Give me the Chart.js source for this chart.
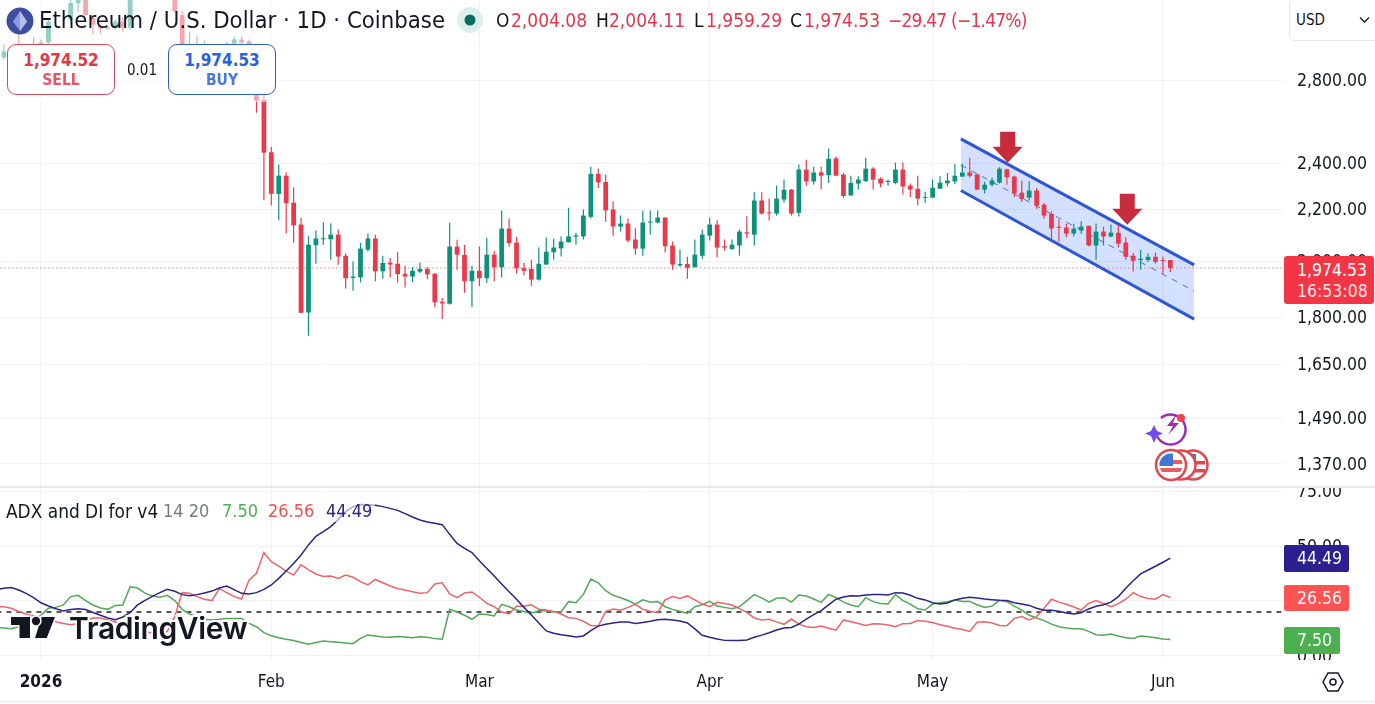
<!DOCTYPE html>
<html>
<head>
<meta charset="utf-8">
<title>ETHUSD</title>
<script src="https://cdn.jsdelivr.net/npm/chart.js@4/dist/chart.umd.min.js"></script>
<style>
  html, body { margin: 0; padding: 0; background: #fff; overflow: hidden; }
  body { width: 1375px; height: 704px; position: relative; font-family: "DejaVu Sans Condensed", "DejaVu Sans", sans-serif; color: #131722; }
  canvas { position: absolute; left: 0; display: block; }
  #priceChart { top: 0; }
  #adxChart { top: 487px; }
  .t { position: absolute; white-space: nowrap; line-height: 1; }
  .ohlc { top: 11px; font-size: 19px; }
  .red { color: #e0394c; }
  .box { position: absolute; width: 106px; height: 49px; background: #fff; border-radius: 9px; text-align: center; }
  .box div:first-child { font-size: 17px; font-weight: bold; margin-top: 5px; line-height: 20px; }
  .box div:last-child { font-size: 15.5px; font-weight: bold; line-height: 20px; opacity: .85; }
  .tag { position: absolute; left: 1284px; color: #fff; font-size: 17.5px; border-radius: 2px; }
  .tag span { position: absolute; left: 13px; top: 3px; }
</style>
</head>
<body>
<canvas id="priceChart" width="1375" height="486"></canvas>
<canvas id="adxChart" width="1375" height="214"></canvas>

<div style="position:absolute;left:0;top:0;width:280px;height:102px;background:rgba(255,255,255,.55)"></div>
<div style="position:absolute;left:0;top:486px;width:1375px;height:2px;background:#e6e8ee"></div>
<div style="position:absolute;left:0;top:701px;width:1375px;height:1px;background:#e6e8ee"></div>
<div style="position:absolute;left:1285px;top:660px;width:90px;height:10px;background:#fff"></div>

<!-- header -->
<svg style="position:absolute;left:6px;top:7px" width="28" height="28" viewBox="0 0 28 28">
  <circle cx="14" cy="14" r="13.5" fill="#3f4da0"/>
  <path d="M14 4 L21 14.5 L14 24 L7 14.5 Z" fill="#8d9be0"/>
  <path d="M14 4 L14 24 L21 14.5 Z" fill="#b4bff0"/>
</svg>
<div class="t" style="left:39px;top:9px;font-size:23.7px">Ethereum / U.S. Dollar · 1D · Coinbase</div>
<svg style="position:absolute;left:457px;top:7px" width="26" height="26"><circle cx="13" cy="13" r="13" fill="#dcefec"/><circle cx="13" cy="13" r="5.5" fill="#0b6b5d"/></svg>
<div class="t ohlc" style="left:496px">O</div>
<div class="t ohlc red" style="left:511px">2,004.08</div>
<div class="t ohlc" style="left:596px">H</div>
<div class="t ohlc red" style="left:609px">2,004.11</div>
<div class="t ohlc" style="left:694px">L</div>
<div class="t ohlc red" style="left:706px">1,959.29</div>
<div class="t ohlc" style="left:790px">C</div>
<div class="t ohlc red" style="left:804px">1,974.53</div>
<div class="t ohlc red" style="left:888px;letter-spacing:-.8px">−29.47 (−1.47%)</div>

<div class="box" style="left:7px;top:44px;border:1px solid #cf4a5c"><div class="red">1,974.52</div><div class="red">SELL</div></div>
<div class="t" style="left:127px;top:63px;font-size:15px">0.01</div>
<div class="box" style="left:168px;top:44px;border:1px solid #2f5fb5;color:#2b62d9"><div>1,974.53</div><div>BUY</div></div>

<div style="position:absolute;left:1289px;top:-1px;width:90px;height:40px;background:#fff;border:1px solid #e6e8ee;border-radius:6px"></div>
<div class="t" style="left:1296px;top:13px;font-size:15px">USD</div>
<svg style="position:absolute;left:1359px;top:16px" width="11" height="8"><path d="M1 1.5 L5.5 6 L10 1.5" fill="none" stroke="#131722" stroke-width="1.3"/></svg>

<!-- last price tag -->
<div class="tag" style="top:256px;width:90px;height:48px;background:#f23645;border-radius:3px">
  <span style="top:4px">1,974.53</span><span style="top:25px;color:#ffe3e5">16:53:08</span>
</div>

<!-- event icons -->
<svg style="position:absolute;left:1143px;top:408px" width="70" height="77" viewBox="0 0 70 77">
  <defs><clipPath id="coin"><circle cx="28" cy="57" r="11.5"/></clipPath></defs>
  <g transform="translate(3,-2)">
    <path d="M15 12 A15 15 0 1 1 11 30" fill="none" stroke="#9c2fb0" stroke-width="2.5"/>
    <path d="M30 9 L21 20 L27 20 L22 29 L33 17 L27 17 Z" fill="#9c2fb0"/>
  </g>
  <circle cx="38" cy="10" r="4" fill="#f0444f"/>
  <path d="M11 17 L14 23 L20 25.5 L14 28 L11 35 L8 28 L2 25.5 L8 23 Z" fill="#6f4cf0"/>
  <circle cx="50" cy="57" r="14.5" fill="#fff" stroke="#e0484f" stroke-width="2.5"/>
  <rect x="38" y="53" width="24" height="3.5" fill="#e0484f"/><rect x="38" y="61" width="24" height="3.5" fill="#e0484f"/>
  <rect x="42" y="46" width="11" height="7" fill="#3f77d6"/>
  <circle cx="38" cy="57" r="14.5" fill="#fff" stroke="#e0484f" stroke-width="2.5"/>
  <circle cx="28" cy="57" r="15" fill="#fff" stroke="#e0484f" stroke-width="2.5"/>
  <g clip-path="url(#coin)">
    <rect x="16" y="45" width="24" height="24" fill="#fff"/>
    <rect x="16" y="52" width="24" height="4" fill="#ea5a5f"/>
    <rect x="16" y="60" width="24" height="4" fill="#ea5a5f"/>
    <rect x="16" y="45" width="14" height="13" fill="#3f77d6"/>
  </g>
</svg>

<!-- indicator legend -->
<div style="position:absolute;left:325px;top:500px;width:50px;height:22px;background:rgba(255,255,255,.6)"></div>
<div class="t" style="left:6px;top:502px;font-size:18.9px">ADX and DI for v4</div>
<div class="t" style="left:163px;top:502px;font-size:18px;color:#787b86">14 20</div>
<div class="t" style="left:222px;top:502px;font-size:18px;color:#4caf50">7.50</div>
<div class="t" style="left:268px;top:502px;font-size:18px;color:#ef5350">26.56</div>
<div class="t" style="left:326px;top:502px;font-size:18px;color:#2a2388">44.49</div>

<div class="tag" style="top:545px;width:65px;height:27px;background:#2c1f8e"><span>44.49</span></div>
<div class="tag" style="top:585px;width:65px;height:26px;background:#ff5252"><span>26.56</span></div>
<div class="tag" style="top:627px;width:56px;height:27px;background:#4caf50"><span>7.50</span></div>

<!-- wordmark -->
<svg style="position:absolute;left:0;top:605px" width="70" height="45">
  <path d="M11 12 H30 V33 H19.5 V20 H11 Z M41.7 12 H55 L46.7 33 H35 Z" fill="#131722" stroke="#fff" stroke-width="3" paint-order="stroke"/>
  <circle cx="36" cy="16" r="4.2" fill="#131722" stroke="#fff" stroke-width="3" paint-order="stroke"/>
</svg>
<div class="t" style="left:69px;top:613px;font-family:Inter,sans-serif;font-weight:600;font-size:30px;color:#131722;-webkit-text-stroke:4px #fff;paint-order:stroke fill;letter-spacing:-.4px">TradingView</div>

<svg style="position:absolute;left:1322px;top:671px" width="22" height="22"><path d="M6 2 H16 L21 11 L16 20 H6 L1 11 Z" fill="none" stroke="#131722" stroke-width="1.5"/><circle cx="11" cy="11" r="3" fill="none" stroke="#131722" stroke-width="1.5"/></svg>

<script>
const tickFont = '"DejaVu Sans Condensed", "DejaVu Sans", sans-serif';

// day numbers count from 1 Jan 2026
const firstDay = -6;
const xMin = -5.518;
const xMax = 167.16;

const monthDays = [0, 31, 59, 90, 120, 151];
const monthLabels = ['2026', 'Feb', 'Mar', 'Apr', 'May', 'Jun'];
const priceTicks = [2800, 2400, 2200, 2000, 1800, 1650, 1490, 1370];
const adxTicks = [75, 50, 25, 0];

const opens = [
  2930,2923,2912,2989,2934,2967,2989,3006,3270,3320,
  3137,3236,3290,3148,3097,3091,3091,3125,3091,3290,
  3350,3300,3340,3290,3278,3165,2901,2967,2934,2950,
  2965,2950,3000,3023,3012,2847,2702,2450,2267,2345,
  2230,2141,1817,2060,2083,2083,2101,2020,1938,1940,
  2043,2086,1962,1994,1990,1953,1943,1961,1971,1953,
  1854,1847,2055,2023,1926,1964,1937,2024,1977,2125,
  2070,1974,1971,1932,1987,2033,2048,2071,2093,2094,
  2172,2353,2318,2202,2133,2145,2082,2047,2149,2149,
  2169,2059,1984,1989,1978,2020,2097,2141,2056,2045,
  2059,2110,2101,2239,2189,2185,2243,2285,2188,2372,
  2320,2360,2347,2422,2350,2260,2311,2322,2376,2332,
  2318,2314,2372,2302,2289,2250,2251,2289,2312,2320,
  2341,2359,2351,2285,2306,2315,2373,2341,2272,2251,
  2281,2222,2184,2132,2129,2105,2117,2136,2059,2113,
  2094,2108,2070,2020,2004,2004,2016,2001,2004.08
];
const highs = [
  2960,2995,2967,3062,3000,3034,3023,3137,3350,3370,
  3272,3303,3315,3165,3108,3102,3137,3148,3315,3380,
  3390,3370,3365,3320,3315,3188,3068,3045,3017,2985,
  2980,3010,3040,3040,3023,2869,2728,2474,2394,2360,
  2295,2168,2095,2117,2150,2145,2121,2028,1998,2069,
  2105,2101,2020,2011,2035,1983,1978,1995,1977,1956,
  1867,2148,2081,2061,1983,2055,2089,2039,2198,2166,
  2092,1993,2005,2051,2090,2086,2095,2209,2108,2202,
  2384,2377,2350,2236,2177,2165,2126,2198,2198,2198,
  2169,2074,2043,2016,2082,2121,2168,2158,2082,2082,
  2121,2174,2274,2274,2247,2302,2328,2288,2394,2416,
  2385,2386,2466,2431,2357,2345,2343,2425,2382,2338,
  2328,2403,2403,2311,2345,2276,2328,2343,2357,2398,
  2398,2425,2351,2319,2337,2382,2376,2345,2324,2321,
  2292,2229,2195,2161,2144,2144,2154,2136,2145,2132,
  2141,2141,2091,2030,2043,2028,2032,2016,2004.11
];
const lows = [
  2900,2912,2901,2912,2923,2956,2967,2989,3262,3260,
  3125,3182,3160,3051,3056,3079,3079,3068,3079,3275,
  3280,3285,3275,3262,3182,2890,2869,2912,2923,2935,
  2930,2940,2967,2989,2836,2637,2240,2218,2158,2105,
  2069,1815,1740,1990,2062,2005,1986,1900,1892,1922,
  2036,1926,1935,1940,1922,1904,1922,1956,1933,1835,
  1795,1844,1968,1885,1835,1908,1920,1925,1940,2054,
  1954,1948,1910,1929,1987,2005,2017,2071,2062,2082,
  2165,2292,2152,2097,2113,2070,2024,2020,2101,2145,
  2032,1968,1979,1935,1975,2009,2078,2013,2039,2043,
  2020,2086,2059,2181,2157,2177,2230,2177,2173,2302,
  2307,2285,2314,2343,2250,2260,2285,2318,2285,2295,
  2302,2308,2264,2254,2218,2230,2251,2289,2298,2308,
  2341,2337,2282,2268,2298,2311,2306,2254,2233,2239,
  2205,2164,2082,2073,2091,2095,2104,2056,2005,2059,
  2091,2051,2005,1961,1968,1997,1990,1953,1959.29
];
const closes = [
  2923,2956,2945,2934,2967,2989,3006,3125,3320,3270,
  3236,3272,3165,3108,3085,3085,3125,3091,3285,3350,
  3300,3340,3290,3272,3188,2912,2967,2940,2956,2965,
  2950,3000,3023,3006,2847,2697,2448,2267,2345,2228,
  2138,1816,2062,2086,2087,2101,2017,1937,1943,2047,
  2086,1962,1993,1987,1952,1943,1964,1971,1951,1852,
  1848,2055,2024,1926,1964,1937,2024,1977,2125,2068,
  1973,1964,1932,1990,2035,2051,2074,2094,2098,2177,
  2353,2316,2198,2133,2145,2078,2047,2149,2153,2169,
  2056,1987,1989,1975,2024,2101,2141,2051,2051,2062,
  2113,2105,2239,2185,2186,2247,2284,2185,2372,2320,
  2359,2345,2420,2345,2258,2314,2328,2376,2328,2311,
  2322,2372,2298,2285,2247,2254,2293,2315,2324,2345,
  2359,2345,2285,2306,2324,2376,2338,2268,2245,2281,
  2218,2177,2125,2128,2105,2125,2133,2059,2113,2094,
  2109,2066,2016,2001,2009,2016,1997,2000,1974.53
];

const adx = [
  30.2,30.8,31.1,30.0,28.5,26.5,24.2,22.7,21.5,20.5,
  21.1,21.5,21.1,19.8,18.5,17.3,16.5,17.7,19.8,23.2,
  25.3,27.1,28.8,30.3,29.4,27.9,27.4,27.9,28.6,29.5,
  30.9,31.8,30.2,28.5,28.2,28.8,30.3,32.3,35.3,38.6,
  42.0,45.9,50.5,54.4,56.5,58.8,62.1,65.6,67.9,68.9,
  68.8,68.5,67.9,67.1,66.2,64.7,63.2,61.8,60.9,60.3,
  59.7,55.3,51.2,48.9,47.0,43.3,39.8,36.4,32.7,29.2,
  25.8,22.1,18.6,15.0,11.4,10.3,9.7,9.2,8.6,9.1,
  11.5,13.6,14.4,15.0,15.5,15.5,14.8,15.2,15.8,16.5,
  16.7,16.4,15.9,15.0,12.3,9.4,8.5,7.7,7.1,7.0,
  7.1,7.3,8.5,9.5,10.6,11.8,12.7,13.0,14.5,16.8,
  18.8,20.6,23.2,25.8,26.8,27.4,27.3,27.7,28.0,28.0,
  27.7,28.8,28.6,27.6,26.2,25.5,24.2,23.6,24.1,25.5,
  26.2,26.7,26.4,25.9,25.6,25.3,25.2,24.2,23.6,23.0,
  21.7,20.8,20.8,20.3,19.5,19.1,19.7,21.4,22.6,23.3,
  24.5,27.0,30.8,34.2,37.3,39.1,40.8,42.6,44.49
];
const minusDi = [
  22.4,22.4,21.7,20.2,19.1,18.2,17.4,16.4,15.6,14.8,
  14.2,14.8,16.1,17.3,17.3,16.4,15.5,14.8,13.3,11.8,
  11.1,10.3,10.3,11.1,17.9,28.8,28.5,27.0,25.8,25.2,
  30.6,28.8,27.0,25.9,34.5,37.6,47.0,42.9,40.9,38.6,
  36.8,41.5,39.1,37.3,36.1,36.4,35.3,36.8,35.8,33.8,
  32.3,34.8,33.3,31.8,30.6,30.0,29.2,28.5,28.8,32.7,
  33.3,28.2,26.5,28.6,29.1,26.7,23.9,22.4,20.0,19.1,
  22.6,22.6,23.3,21.2,20.9,20.2,19.1,17.4,17.1,15.8,
  13.9,13.6,20.3,21.4,20.8,22.1,23.5,21.2,20.3,19.7,
  25.5,27.0,26.1,27.3,25.5,23.6,22.4,24.4,23.9,23.2,
  21.5,19.8,17.3,16.4,16.7,15.5,14.4,16.8,14.5,13.3,
  13.0,13.6,12.6,11.7,16.4,15.6,14.8,13.9,14.7,14.5,
  14.1,13.3,14.7,14.8,16.1,15.8,15.2,14.2,13.5,12.6,
  12.0,11.2,15.3,15.6,15.0,13.9,13.8,17.1,17.9,16.4,
  17.9,21.7,25.8,24.5,23.5,22.3,20.9,23.9,25.2,23.9,
  22.4,23.8,25.8,28.8,27.0,26.1,25.8,27.9,26.56
];
const plusDi = [
  13.0,12.7,12.4,13.3,14.1,16.4,18.6,21.7,22.1,23.2,
  27.0,27.6,25.2,23.2,21.8,21.2,23.0,23.2,31.5,30.9,
  28.6,27.3,26.7,27.6,25.2,21.2,19.1,17.9,16.7,16.4,
  16.7,17.1,17.1,17.1,14.8,13.3,10.6,9.2,8.3,7.6,
  7.0,6.1,5.3,6.1,6.8,6.5,6.2,5.9,5.6,8.0,
  9.5,9.1,8.6,8.5,8.9,8.6,8.3,8.8,8.5,7.9,
  7.6,21.2,20.0,18.5,16.7,19.1,18.9,18.2,23.5,22.4,
  20.9,20.2,19.4,20.6,20.6,20.0,20.0,24.7,24.2,28.0,
  35.0,33.3,29.7,27.6,26.5,25.2,23.6,25.5,24.4,24.8,
  22.4,21.2,20.3,19.4,22.4,23.3,24.8,22.7,22.1,21.5,
  22.4,25.2,27.9,26.4,24.5,26.2,26.5,24.5,27.7,27.3,
  25.9,24.4,28.0,26.5,24.5,23.2,22.4,26.5,24.7,23.9,
  23.6,27.9,25.2,23.6,21.5,20.9,23.6,24.2,24.7,25.5,
  24.8,24.8,23.3,22.1,22.7,25.3,24.7,22.7,20.9,18.5,
  17.3,16.1,14.5,13.3,12.7,12.4,12.4,11.2,9.7,9.4,
  10.0,9.1,8.3,8.0,9.1,8.8,8.3,7.7,7.50
];
const adxThreshold = 20;

// falling channel drawn over May
const channelDays = [123.8, 155.2];
const channelUpper = [2512, 1986];
const channelLower = [2281, 1795];
const channelMiddle = [2392, 1891];

// tips of the two down arrows
const arrowDays = [130.1, 146.2];
const arrowPrices = [2402, 2140];

const lastPrice = closes[closes.length - 1];
const GREEN = '#0c927b';
const RED = '#e93a4b';
const GRID = '#f1f2f5';

const candleColors = closes.map((c, i) => (c >= opens[i] ? GREEN : RED));
const dayOf = (i) => firstDay + i;

function toLine(values) {
  return values.map((v, i) => ({ x: dayOf(i), y: v }));
}

function money(v) {
  return Number(v).toLocaleString('en-US', { minimumFractionDigits: 2, maximumFractionDigits: 2 });
}

function flatLine(value, color, dash, width) {
  return {
    type: 'line',
    data: [{ x: firstDay, y: value }, { x: xMax + 5, y: value }],
    borderColor: color,
    borderWidth: width,
    borderDash: dash,
    pointRadius: 0,
    order: 3,
  };
}

// sits under the candles so the bodies keep their full colour
function channelLine(values, extra) {
  return Object.assign({
    type: 'line',
    data: channelDays.map((d, i) => ({ x: d, y: values[i] })),
    borderColor: '#2f55d4',
    borderWidth: 3,
    pointRadius: 0,
    order: 4,
  }, extra);
}

const arrowPlugin = {
  id: 'downArrows',
  afterDatasetsDraw(chart) {
    const { ctx, scales } = chart;
    ctx.save();
    ctx.fillStyle = '#c62c3b';
    arrowDays.forEach((d, i) => {
      const x = scales.x.getPixelForValue(d);
      const y = scales.y.getPixelForValue(arrowPrices[i]);
      ctx.beginPath();
      ctx.moveTo(x, y);
      ctx.lineTo(x - 15, y - 16);
      ctx.lineTo(x - 7.5, y - 16);
      ctx.lineTo(x - 7.5, y - 31);
      ctx.lineTo(x + 7.5, y - 31);
      ctx.lineTo(x + 7.5, y - 16);
      ctx.lineTo(x + 15, y - 16);
      ctx.closePath();
      ctx.fill();
    });
    ctx.restore();
  },
};

function xScale(showLabels) {
  return {
    type: 'linear',
    min: xMin,
    max: xMax,
    offset: false,
    grid: { color: GRID, drawTicks: false, offset: false },
    border: { display: false },
    afterBuildTicks(scale) {
      scale.ticks = monthDays.map((d) => ({ value: d }));
    },
    afterFit(scale) {
      scale.height = showLabels ? 41 : 0;
      scale.paddingLeft = 0;
      scale.paddingRight = 0;
    },
    ticks: {
      display: showLabels,
      autoSkip: false,
      maxRotation: 0,
      padding: 12,
      color: '#131722',
      font: (ctx) => ({ family: tickFont, size: 17, weight: ctx.index === 0 ? 'bold' : 'normal' }),
      callback: (v, i) => monthLabels[i],
    },
  };
}

function yScale(tickValues, extra) {
  return Object.assign({
    position: 'right',
    grid: { color: GRID, drawTicks: false },
    border: { display: false },
    afterBuildTicks(scale) {
      scale.ticks = tickValues.map((v) => ({ value: v }));
    },
    afterFit(scale) {
      scale.width = 92;
      // no room kept for half a label above and below the plot
      scale.paddingTop = 0;
      scale.paddingBottom = 0;
    },
    ticks: {
      autoSkip: false,
      padding: 14,
      labelOffset: 1,
      color: '#131722',
      font: { family: tickFont, size: 17.5 },
      callback: (v) => money(v),
    },
  }, extra);
}

new Chart(document.getElementById('priceChart'), {
  type: 'line',
  data: {
    datasets: [
      channelLine(channelUpper, { fill: '+1', backgroundColor: 'rgba(41,98,255,0.2)' }),
      channelLine(channelLower),
      channelLine(channelMiddle, { borderWidth: 1, borderColor: '#5b74b8', borderDash: [6, 6] }),
      {
        type: 'bar',
        data: opens.map((o, i) => ({ x: dayOf(i), y: [o, closes[i]] })),
        backgroundColor: candleColors,
        barPercentage: 0.8,
        minBarLength: 1,
        grouped: false,
        order: 1,
      },
      {
        type: 'bar',
        data: highs.map((h, i) => ({ x: dayOf(i), y: [lows[i], h] })),
        backgroundColor: candleColors,
        barPercentage: 0.2,
        grouped: false,
        order: 2,
      },
      flatLine(lastPrice, '#d8434f', [1, 3], 1),
    ],
  },
  plugins: [arrowPlugin],
  options: {
    responsive: false,
    animation: false,
    events: [],
    layout: { padding: 0 },
    plugins: { legend: { display: false }, tooltip: { enabled: false } },
    scales: {
      x: xScale(false),
      y: yScale(priceTicks, { type: 'logarithmic', min: 1314.9, max: 3254 }),
    },
  },
});

function indicatorLine(values, color) {
  return { type: 'line', data: toLine(values), borderColor: color, borderWidth: 1.5, pointRadius: 0, tension: 0, order: 1 };
}

new Chart(document.getElementById('adxChart'), {
  type: 'line',
  data: {
    datasets: [
      indicatorLine(adx, '#2a2580'),
      indicatorLine(minusDi, '#e8666a'),
      indicatorLine(plusDi, '#55a65a'),
      flatLine(adxThreshold, '#000', [5, 5], 1.3),
    ],
  },
  options: {
    responsive: false,
    animation: false,
    events: [],
    layout: { padding: 0 },
    plugins: { legend: { display: false }, tooltip: { enabled: false } },
    scales: {
      x: xScale(true),
      y: yScale(adxTicks, { type: 'linear', min: -1.82, max: 76.82 }),
    },
  },
});
</script>
</body>
</html>
